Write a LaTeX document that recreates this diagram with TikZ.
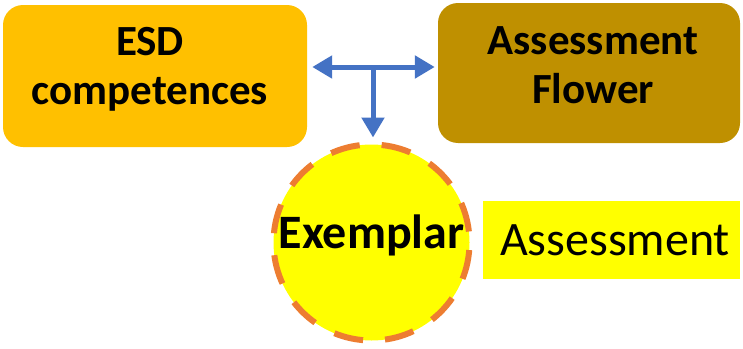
\documentclass[tikz,border=0pt]{standalone}
\usepackage{fontspec}
\setmainfont{Carlito}
\usetikzlibrary{arrows.meta,shapes.geometric}
\definecolor{esdc}{HTML}{FFC000}
\definecolor{flowc}{HTML}{BF9000}
\definecolor{yel}{HTML}{FFFF00}
\definecolor{orn}{HTML}{ED7D31}
\definecolor{blu}{HTML}{4472C4}
\tikzset{
  topbox/.style={rounded corners=20pt, inner sep=0pt},
  toptext/.style={inner sep=0pt, align=center,
    font=\fontsize{43}{49}\selectfont\bfseries, text=black, text depth=20pt},
  arr/.style={draw=blu, line width=5pt, -{Triangle[width=22pt,length=20pt]}},
  darr/.style={draw=blu, line width=5pt, {Triangle[width=22pt,length=20pt]}-{Triangle[width=22pt,length=20pt]}},
}
\begin{document}
\begin{tikzpicture}[x=1pt,y=-1pt]
\useasboundingbox (0,0) rectangle (743,348);
\node[topbox, fill=esdc, minimum width=304pt, minimum height=142pt] (esd) at (155,76) {};
\node[toptext] (esdtext) at ([xshift=-5pt]esd.center) {ESD\\competences};
\node[topbox, fill=flowc, minimum width=302pt, minimum height=140pt] (flower) at (589,73) {};
\node[toptext] (flowertext) at ([xshift=4pt,yshift=-2pt]flower.center) {Assessment\\Flower};
\node[circle, fill=yel, draw=orn, line width=6pt, dash pattern=on 29.6pt off 22pt, dash phase=40.6pt,
  minimum size=196pt, inner sep=0pt, text depth=22pt,
  font=\fontsize{48}{54}\selectfont\bfseries] (ex) at (371.5,242.5) {Exemplar};
\node[fill=yel, minimum width=257pt, minimum height=78pt, inner sep=0pt,
  text width=237pt, align=right,
  font=\fontsize{48}{54}\selectfont] (as) at (611.5,240) {Assessment};
\coordinate (T) at (373,67);
\draw[darr] ([xshift=5pt]esd.east |- T) -- ([xshift=-3pt]flower.west |- T);
\draw[arr] (T) -- ([yshift=4pt]ex.north -| T);
\end{tikzpicture}
\end{document}
